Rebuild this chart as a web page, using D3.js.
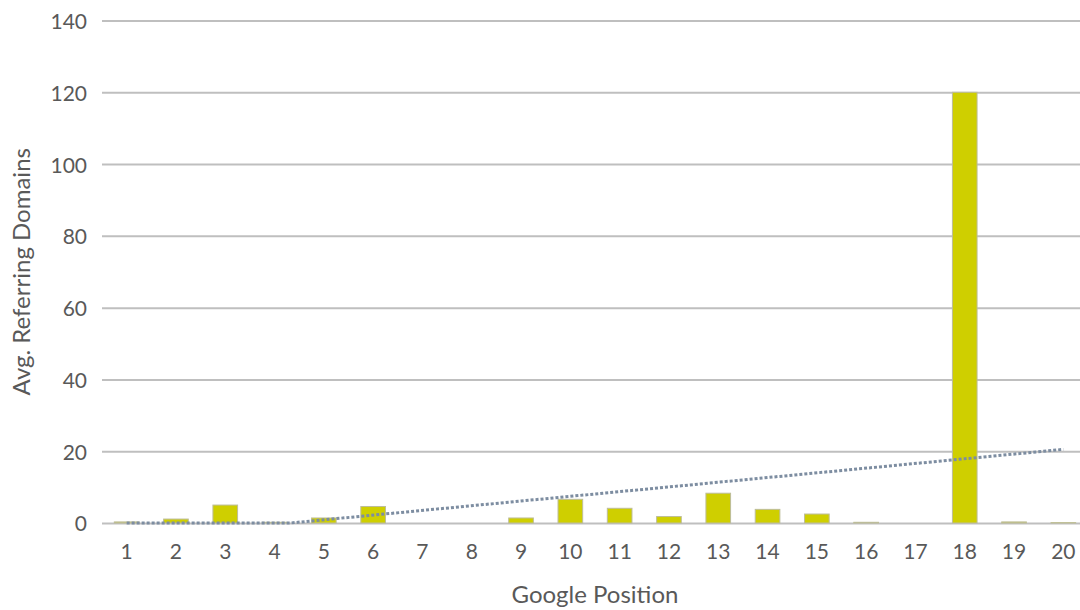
<!DOCTYPE html>
<html>
<head>
<meta charset="utf-8">
<script src="https://cdn.jsdelivr.net/npm/d3@7"></script>
<style>
  html, body { margin: 0; padding: 0; background: #fff; }
  svg { display: block; }
  text { font-family: Lato, "Open Sans", sans-serif; fill: #595959; }
</style>
</head>
<body>
<svg id="chart" width="1080" height="610"></svg>
<script>
// Google ranking position vs. average referring domains
const positions = ["1","2","3","4","5","6","7","8","9","10","11","12","13","14","15","16","17","18","19","20"];
const avgDomains = [0.3, 1.1, 5.0, 0.2, 1.4, 4.6, 0, 0, 1.4, 6.6, 4.1, 1.8, 8.3, 3.8, 2.5, 0.2, 0, 120, 0.3, 0.1];
const yTicks = [0, 20, 40, 60, 80, 100, 120, 140];
const xTitle = "Google Position";
const yTitle = "Avg. Referring Domains";

const svg = d3.select("#chart");
const plot = { left: 102, right: 1088, top: 20.5, bottom: 523 };

const x = d3.scaleBand().domain(positions).range([plot.left, plot.right]).paddingInner(0.5).paddingOuter(0.25);
const y = d3.scaleLinear().domain([0, 140]).range([plot.bottom, plot.top]);

// horizontal gridlines + value labels
const yAxis = d3.axisLeft(y).tickValues(yTicks).tickSize(-(plot.right - plot.left)).tickPadding(15);
const gy = svg.append("g").attr("transform", `translate(${plot.left},0)`).call(yAxis);
gy.select(".domain").remove();
gy.selectAll(".tick line").attr("stroke", "#bfbfbf").attr("stroke-width", 2);
gy.selectAll(".tick text").style("font-size", "21px").attr("fill", "#595959").attr("dy", "0.38em");

// bars
svg.append("g").selectAll("rect").data(avgDomains).join("rect")
  .attr("x", (d, i) => x(positions[i]))
  .attr("width", x.bandwidth())
  .attr("y", d => y(d))
  .attr("height", d => y(0) - y(d))
  .attr("fill", "#cfcf00")
  .attr("stroke", "#bdbd9a")
  .attr("stroke-width", 1);

// category labels
const xAxis = d3.axisBottom(x).tickSize(0).tickPadding(21);
const gx = svg.append("g").attr("transform", `translate(0,${plot.bottom})`).call(xAxis);
gx.select(".domain").remove();
gx.selectAll(".tick text").style("font-size", "21px").attr("fill", "#595959");

// linear trendline (least squares over positions 1..20), floored at the axis minimum
const n = avgDomains.length;
const xs = avgDomains.map((d, i) => i + 1);
const mx = d3.mean(xs), my = d3.mean(avgDomains);
const slope = d3.sum(xs, (v, i) => (v - mx) * (avgDomains[i] - my)) / d3.sum(xs, v => (v - mx) ** 2);
const intercept = my - slope * mx;
const fit = v => intercept + slope * v;
const pts = [1];
const zero = -intercept / slope;
if (zero > 1 && zero < n) pts.push(zero);
pts.push(n);
const px = v => x(positions[0]) + x.bandwidth() / 2 + (v - 1) * x.step();
svg.append("path")
  .attr("d", d3.line().x(v => px(v)).y(v => y(Math.max(0, fit(v))))(pts))
  .attr("fill", "none")
  .attr("stroke", "#7d8da1")
  .attr("stroke-width", 3)
  .attr("stroke-dasharray", "3 2");

// axis titles, centred on the plot area
svg.append("text").attr("x", (plot.left + plot.right) / 2).attr("y", 603).attr("text-anchor", "middle")
  .style("font-size", "24px").text(xTitle);
svg.append("text").attr("transform", `translate(30,${(plot.top + plot.bottom) / 2}) rotate(-90)`).attr("text-anchor", "middle")
  .style("font-size", "24px").text(yTitle);
</script>
</body>
</html>
